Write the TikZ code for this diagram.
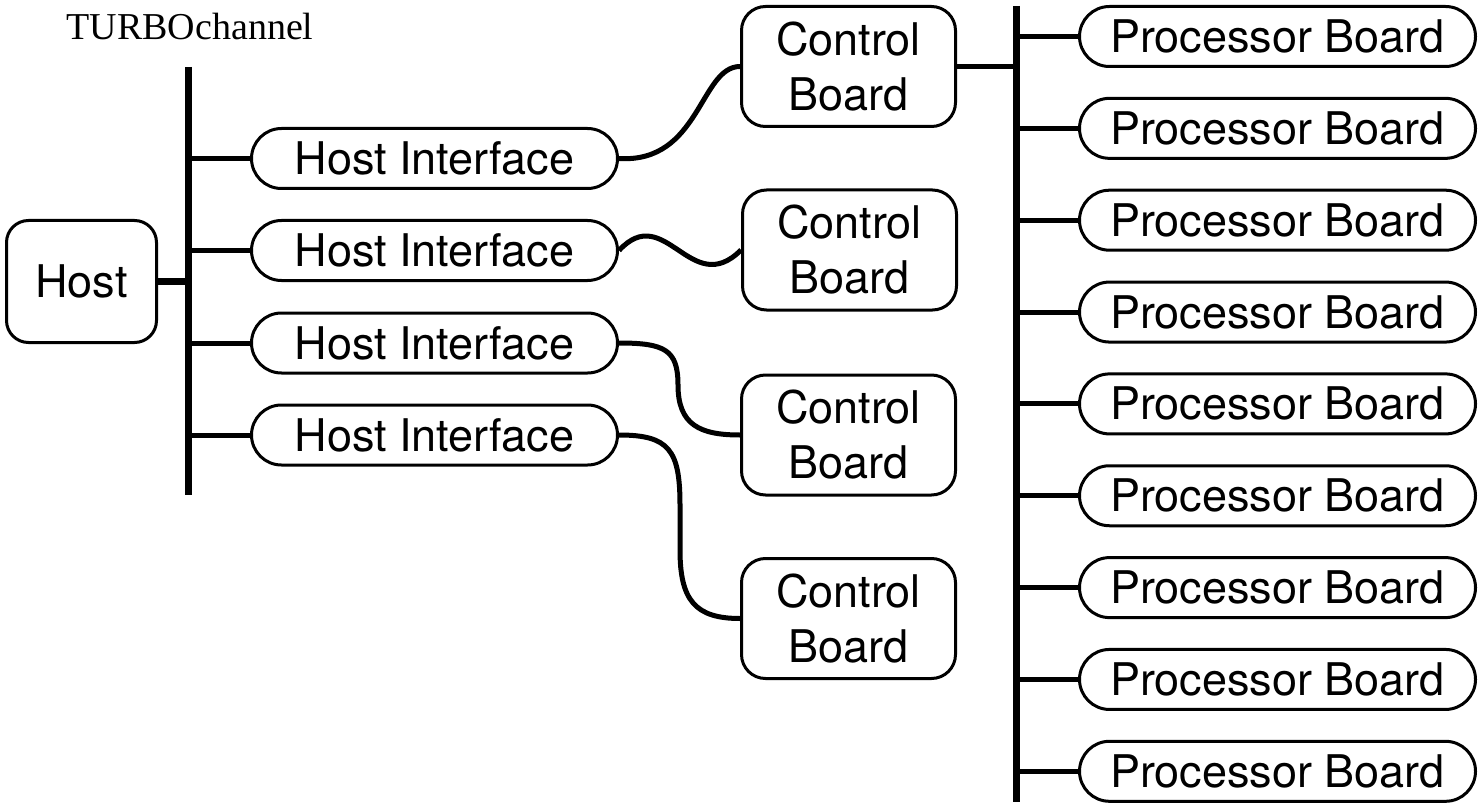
\documentclass[tikz,border=0pt]{standalone}
\usepackage{fontspec}
\setmainfont{TeX Gyre Heros}
\newfontfamily\seriffont{Liberation Serif}
\begin{document}
\begin{tikzpicture}[x=1pt,y=-1pt,
  box/.style={draw, line width=3pt, inner sep=0pt, align=center,
    font=\fontsize{45}{55}\selectfont},
  hostbox/.style={box, rounded corners=22pt, minimum width=150pt, minimum height=122pt},
  ctrlbox/.style={box, rounded corners=24pt, minimum width=214pt, minimum height=120pt},
  hibox/.style={box, rounded corners=30pt, minimum width=366pt, minimum height=60pt},
  procbox/.style={box, rounded corners=30pt, minimum width=396pt, minimum height=60pt},
  bus/.style={line width=7pt},
  branch/.style={line width=5pt},
  cable/.style={line width=5pt}]
\useasboundingbox (0,0) rectangle (1480,805);

% label
\node[font=\seriffont\fontsize{38}{44}\selectfont, anchor=base, inner sep=0pt] (tc) at (190,40) {TURBOchannel};

% buses
\coordinate (lbt) at (188,67);
\coordinate (lbb) at (188,495);
\coordinate (rbt) at (1016,6);
\coordinate (rbb) at (1016,802);
\draw[bus] (lbt) -- (lbb);
\draw[bus] (rbt) -- (rbb);

% host
\node[hostbox] (host) at (81.5,281.5) {Host};
\draw[bus] (host.east) -- (lbt |- host.east);

% host interfaces
\node[hibox] (hi1) at (434.5,158.5) {Host Interface};
\node[hibox] (hi2) at (434.5,250.5) {Host Interface};
\node[hibox] (hi3) at (434.5,343) {Host Interface};
\node[hibox] (hi4) at (434.5,435) {Host Interface};
\foreach \i in {1,...,4} {
  \draw[branch] (lbt |- hi\i.west) -- (hi\i.west);
}

% control boards
\node[ctrlbox] (cb1) at (848.5,66.5) {Control\\Board};
\node[ctrlbox] (cb2) at (849.5,250) {Control\\Board};
\node[ctrlbox] (cb3) at (848.5,435) {Control\\Board};
\node[ctrlbox] (cb4) at (848.5,618.5) {Control\\Board};

% cables
\draw[cable] (hi1.east) .. controls +(81,5) and +(-40,0) .. (cb1.west);
\draw[cable] (hi2.east) .. controls +(46,-50) and +(-50,50) .. (cb2.west);
\coordinate (m3) at (678,385);
\draw[cable] (hi3.east) .. controls +(46,0) and +(0,-35) .. (m3)
  .. controls +(0,40) and +(-40,0) .. (cb3.west);
\coordinate (m4a) at (680,505);
\coordinate (m4b) at (680,550);
\draw[cable] (hi4.east) .. controls +(50,0) and +(0,-55) .. (m4a) -- (m4b)
  .. controls +(0,50) and +(-45,0) .. (cb4.west);

\draw[branch] (cb1.east) -- (rbt |- cb1.east);

% processor boards
\foreach \i in {0,...,8} {
  \node[procbox] (pb\i) at (1277.5,36.5+91.85*\i) {Processor Board};
  \draw[branch] (rbt |- pb\i.west) -- (pb\i.west);
}
\end{tikzpicture}
\end{document}
